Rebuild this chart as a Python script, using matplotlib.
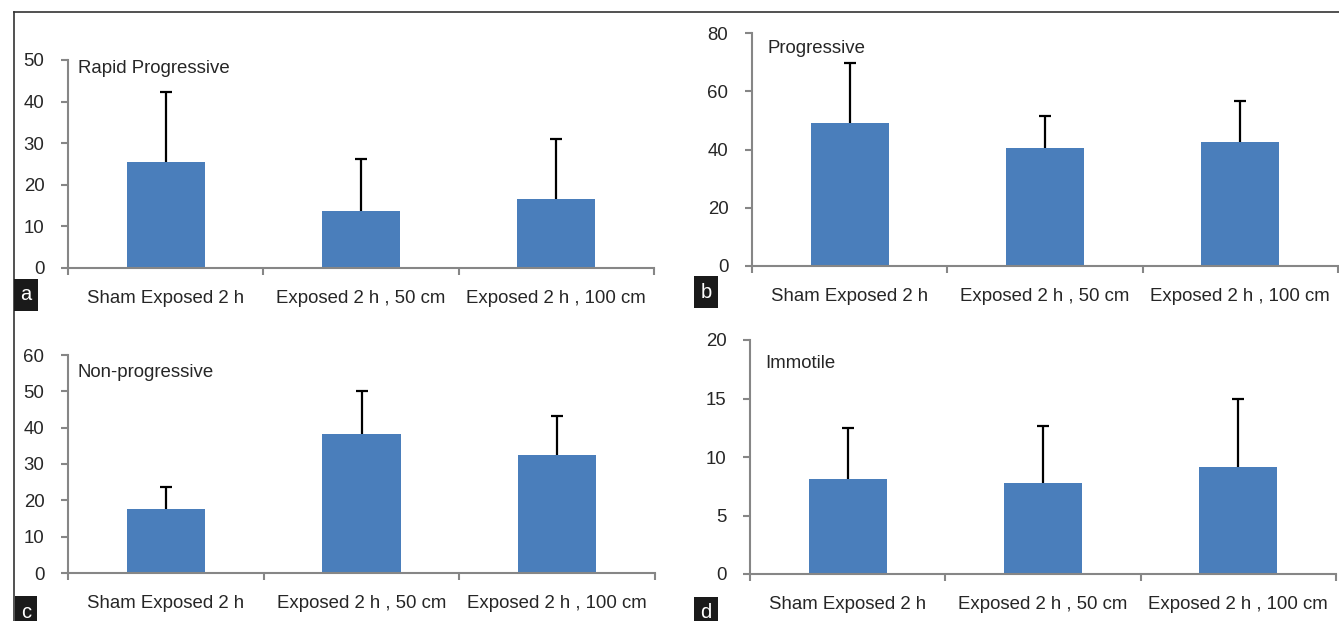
import matplotlib
matplotlib.use("Agg")
import matplotlib.pyplot as plt
from matplotlib.lines import Line2D

plt.rcParams['font.family'] = ['Liberation Sans', 'DejaVu Sans']

categories = ["Sham Exposed 2 h", "Exposed 2 h , 50 cm", "Exposed 2 h , 100 cm"]

rapid_mean = [25.6, 13.8, 16.7]
rapid_sd = [16.6, 12.3, 14.3]
prog_mean = [49.0, 40.5, 42.5]
prog_sd = [20.6, 11.0, 14.2]
nonprog_mean = [17.6, 38.3, 32.5]
nonprog_sd = [6.1, 11.8, 10.6]
immotile_mean = [8.1, 7.8, 9.15]
immotile_sd = [4.4, 4.85, 5.8]

W, H = 1339, 621
BAR = "#4a7ebb"
GRAY = "#868686"
TXT = "#262626"
FS = 13.4

fig = plt.figure(figsize=(W / 100, H / 100), dpi=100)


def px_axes(left, right, zero, top):
    return fig.add_axes([left / W, (H - zero) / H, (right - left) / W, (zero - top) / H])


def panel(ax, means, sds, ymax, ystep, title, tx, ty):
    x = range(len(means))
    ax.bar(x, means, width=0.4, color=BAR, zorder=2)
    eb = ax.errorbar(x, means, yerr=[[0] * len(sds), sds], fmt="none", ecolor="black",
                     elinewidth=1.6, capsize=4, capthick=1.6, zorder=3)
    # plus-only error bars: drop the cap sitting on the bar top
    eb[1][0].set_visible(False)
    ax.set_xlim(-0.5, len(means) - 0.5)
    ax.set_ylim(0, ymax)
    ax.set_yticks(range(0, ymax + 1, ystep))
    ax.set_xticks([i - 0.5 for i in range(len(means) + 1)])
    ax.set_xticklabels([])
    ax.set_xticks(list(x), minor=True)
    ax.set_xticklabels(categories, minor=True)
    ax.tick_params(axis="x", which="major", length=5, width=1.5, color=GRAY)
    ax.tick_params(axis="x", which="minor", length=0, pad=16, labelsize=FS, labelcolor=TXT)
    ax.tick_params(axis="y", length=5, width=1.5, color=GRAY, pad=12, labelsize=FS, labelcolor=TXT)
    for s in ("top", "right"):
        ax.spines[s].set_visible(False)
    for s in ("left", "bottom"):
        ax.spines[s].set_color(GRAY)
        ax.spines[s].set_linewidth(1.5)
    ax.text(tx, ty, title, transform=ax.transAxes, fontsize=FS, color=TXT, va="center", ha="left")


ax_a = px_axes(68, 654, 268, 60)
panel(ax_a, rapid_mean, rapid_sd, 50, 10, "Rapid Progressive", 0.017, 0.958)
ax_b = px_axes(752, 1338, 266, 33)
panel(ax_b, prog_mean, prog_sd, 80, 20, "Progressive", 0.027, 0.935)
ax_c = px_axes(68, 655, 573, 355)
panel(ax_c, nonprog_mean, nonprog_sd, 60, 10, "Non-progressive", 0.017, 0.92)
ax_d = px_axes(750, 1336, 574, 340)
panel(ax_d, immotile_mean, immotile_sd, 20, 5, "Immotile", 0.026, 0.9)

# outer frame (left and top edges)
fig.add_artist(Line2D([14 / W, 14 / W], [0, 1 - 12 / H], color="#333333", lw=1.2, transform=fig.transFigure))
fig.add_artist(Line2D([14 / W, 1], [1 - 12 / H, 1 - 12 / H], color="#333333", lw=1.2, transform=fig.transFigure))

# panel letters
for lbl, cx, cy in [("a", 26, 295), ("b", 706, 292), ("c", 26, 612), ("d", 706, 613)]:
    fig.text(cx / W, 1 - cy / H, lbl, color="white", fontsize=14.5, ha="center", va="center",
             bbox=dict(boxstyle="square,pad=0.3", facecolor="#1a1a1a", edgecolor="none"))

fig.savefig("out.png", dpi=100)
